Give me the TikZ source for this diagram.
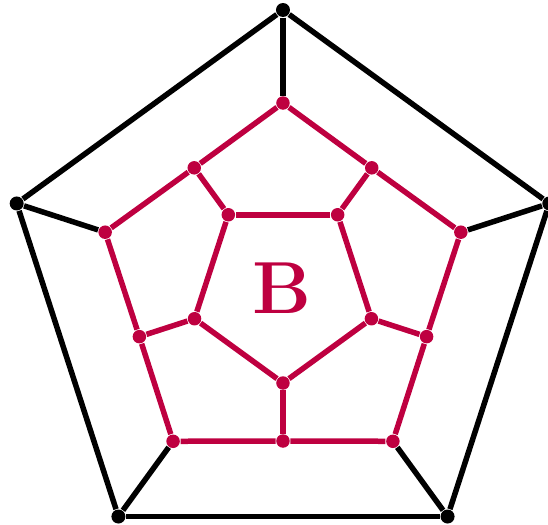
\documentclass[tikz,border=0pt]{standalone}
\usepackage{xcolor}
\definecolor{crimsonB}{RGB}{190,0,64}

\begin{document}
\begin{tikzpicture}[
    edge/.style={
        line width=0.055cm,
        line join=round
    },
    outerdot/.style={
        circle,
        fill=black,
        inner sep=0pt,
        minimum size=0.14cm
    },
    innerdot/.style={
        circle,
        fill=crimsonB,
        inner sep=0pt,
        minimum size=0.135cm
    }
]
\useasboundingbox (-2.83,-2.35) rectangle (2.65,2.90);

% Vertices: outer ring, middle ring (two radii), inner pentagon
\foreach \k in {1,...,5}{
    \pgfmathsetmacro{\a}{90+72*(\k-1)}
    \pgfmathsetmacro{\b}{126+72*(\k-1)}
    \node[outerdot] (o\k) at (\a:2.80) {};
    \node[innerdot] (p\k) at (\a:1.87) {};
    \node[innerdot] (q\k) at (\b:1.51) {};
    \node[innerdot] (i\k) at (\b:0.93) {};
}

% Edges
\foreach \k [evaluate=\k as \n using {int(mod(\k,5)+1)}] in {1,...,5}{
    \draw[edge, black] (o\k) -- (o\n);
    \draw[edge, black] (o\k) -- (p\k);
    \draw[edge, crimsonB] (p\k) -- (q\k);
    \draw[edge, crimsonB] (q\k) -- (p\n);
    \draw[edge, crimsonB] (q\k) -- (i\k);
    \draw[edge, crimsonB] (i\k) -- (i\n);
}

% Label
\node[text=crimsonB, font=\fontsize{21}{25}\selectfont\bfseries] (lbl) at (-0.01,0.02) {B};
\end{tikzpicture}
\end{document}
